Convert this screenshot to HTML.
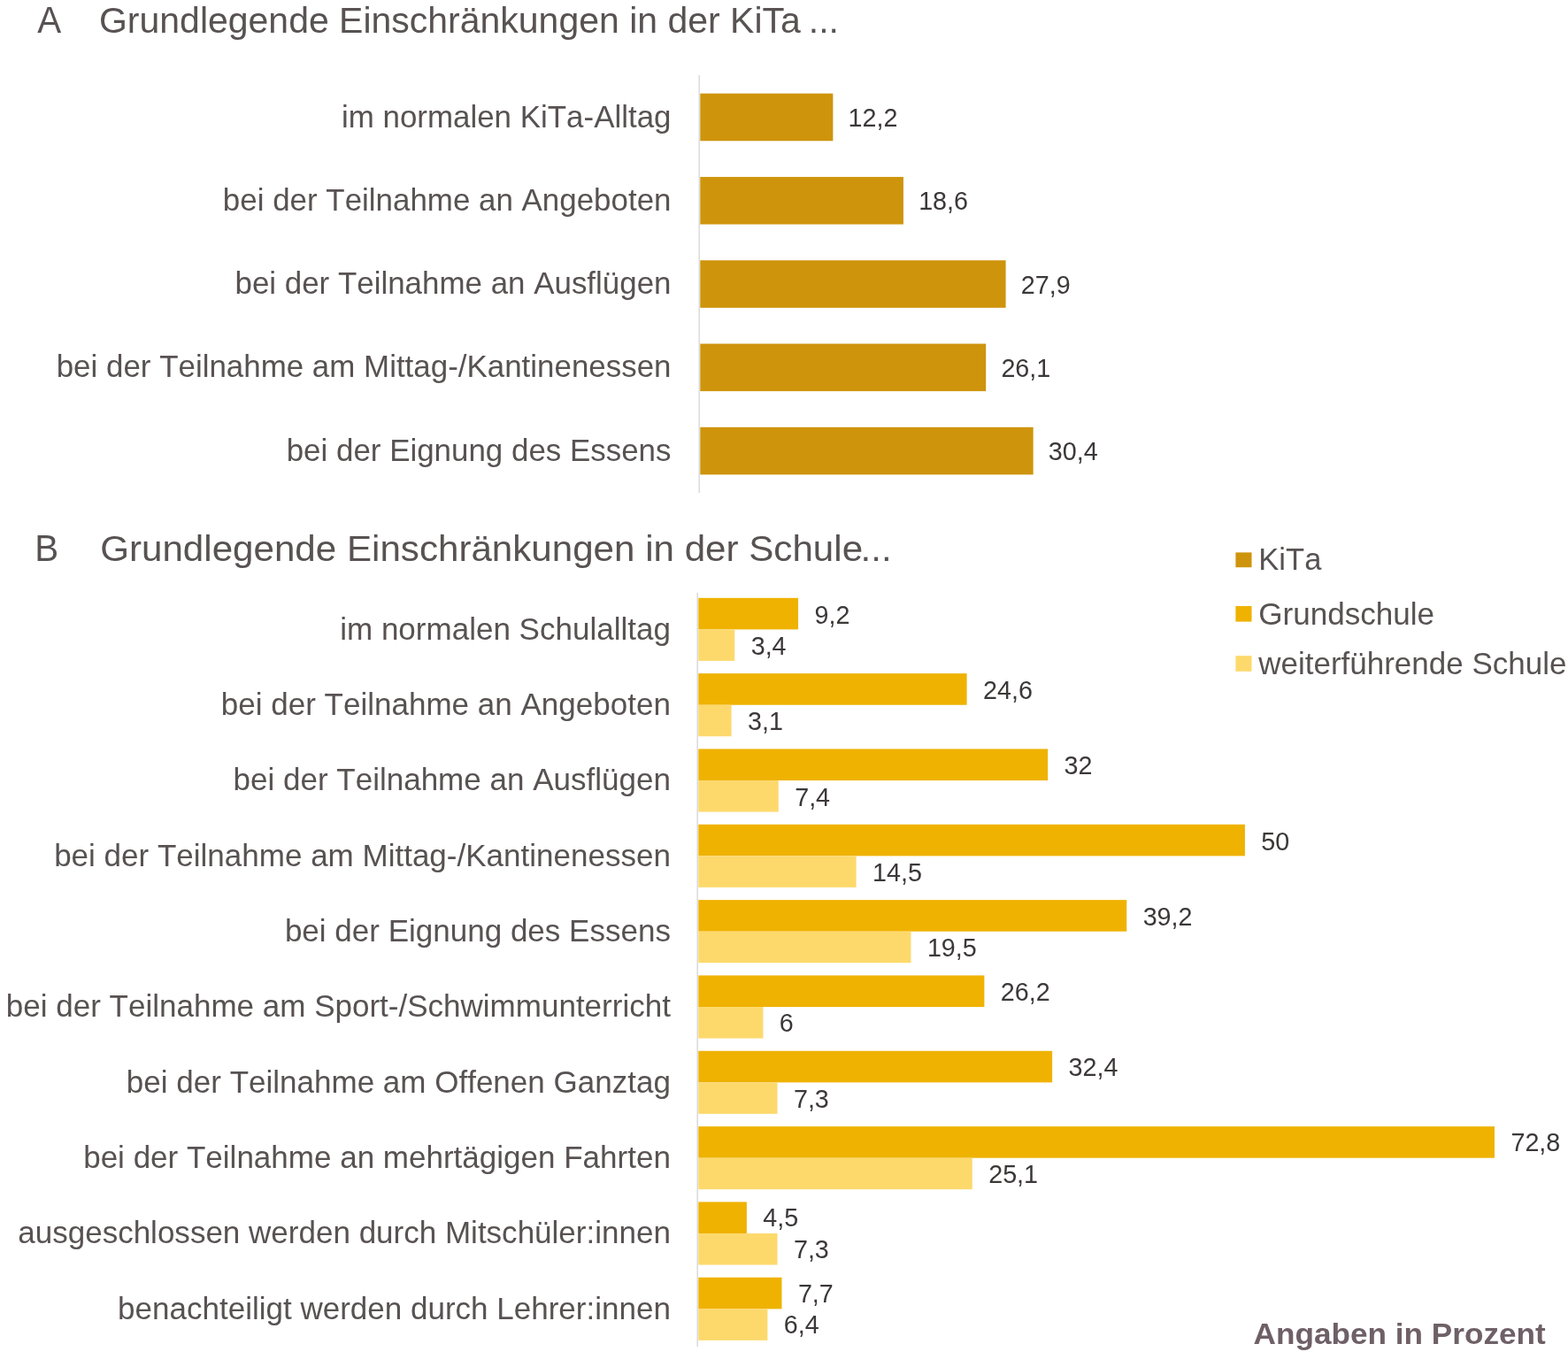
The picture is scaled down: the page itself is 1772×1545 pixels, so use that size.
<!DOCTYPE html>
<html lang="de"><head><meta charset="utf-8"><title>Grundlegende Einschränkungen in KiTa und Schule</title>
<style>
html,body{margin:0;padding:0;background:#fff;}
body{width:1772px;height:1545px;overflow:hidden;}
svg{display:block;font-family:"Liberation Sans",sans-serif;}
text{white-space:pre;font-kerning:none;}
.ttl{font-size:41.0px;fill:#585252;font-kerning:normal;}
.cat{font-size:34.3px;fill:#585252;text-anchor:end;}
.leg{font-size:34.3px;fill:#585252;}
.val{font-size:29.3px;fill:#3c3838;}
.note{font-size:34.0px;font-weight:bold;fill:#6E6066;font-kerning:normal;}
</style></head><body>
<svg width="1772" height="1545" viewBox="0 0 1772 1545" role="img" aria-label="Balkendiagramme: Grundlegende Einschränkungen in KiTa und Schule">
<rect width="1772" height="1545" fill="#ffffff"/>
<g id="chart-a">
<text class="ttl" transform="translate(42.20 37.00) scale(0.9850 1.0500)">A</text>
<text class="ttl" transform="translate(112.00 36.80) scale(0.9997 1.0000)">Grundlegende Einschränkungen in der KiTa <tspan dx="-2.4">...</tspan></text>
<rect x="789.45" y="85.00" width="1.60" height="472.00" fill="#DCDCDC"/>
<rect x="791.30" y="105.65" width="150.06" height="53.60" fill="#CE940C"/>
<text class="cat" transform="translate(758.50 143.55) scale(1.0180 1.0000)">im normalen KiTa-Alltag</text>
<text class="val" transform="translate(958.56 142.95) scale(0.9800 1.0000)">12,2</text>
<rect x="791.30" y="199.94" width="229.64" height="53.60" fill="#CE940C"/>
<text class="cat" transform="translate(758.50 237.84) scale(1.0180 1.0000)">bei der Teilnahme an Angeboten</text>
<text class="val" transform="translate(1038.14 237.24) scale(0.9800 1.0000)">18,6</text>
<rect x="791.30" y="294.23" width="345.29" height="53.60" fill="#CE940C"/>
<text class="cat" transform="translate(758.50 332.13) scale(1.0180 1.0000)">bei der Teilnahme an Ausflügen</text>
<text class="val" transform="translate(1153.79 331.53) scale(0.9800 1.0000)">27,9</text>
<rect x="791.30" y="388.52" width="322.90" height="53.60" fill="#CE940C"/>
<text class="cat" transform="translate(758.50 426.42) scale(1.0180 1.0000)">bei der Teilnahme am Mittag-/Kantinenessen</text>
<text class="val" transform="translate(1131.40 425.82) scale(0.9800 1.0000)">26,1</text>
<rect x="791.30" y="482.81" width="376.37" height="53.60" fill="#CE940C"/>
<text class="cat" transform="translate(758.50 520.71) scale(1.0180 1.0000)">bei der Eignung des Essens</text>
<text class="val" transform="translate(1184.87 520.11) scale(0.9800 1.0000)">30,4</text>
</g>
<g id="chart-b">
<text class="ttl" transform="translate(39.30 634.30) scale(0.9850 1.0550)">B</text>
<text class="ttl" transform="translate(113.20 634.20) scale(1.0278 1.0000)">Grundlegende Einschränkungen in der Schule<tspan dx="-2.5">...</tspan></text>
<rect x="787.40" y="670.00" width="1.60" height="852.00" fill="#DCDCDC"/>
<rect x="789.30" y="675.80" width="112.74" height="35.60" fill="#EFB200"/>
<rect x="789.30" y="711.40" width="40.97" height="35.50" fill="#FDD96C"/>
<text class="cat" transform="translate(757.90 722.80) scale(1.0210 1.0000)">im normalen Schulalltag</text>
<text class="val" transform="translate(920.44 705.10) scale(0.9800 1.0000)">9,2</text>
<text class="val" transform="translate(848.67 740.20) scale(0.9800 1.0000)">3,4</text>
<rect x="789.30" y="761.13" width="303.30" height="35.60" fill="#EFB200"/>
<rect x="789.30" y="796.73" width="37.26" height="35.50" fill="#FDD96C"/>
<text class="cat" transform="translate(757.90 808.13) scale(1.0210 1.0000)">bei der Teilnahme an Angeboten</text>
<text class="val" transform="translate(1111.00 790.26) scale(0.9800 1.0000)">24,6</text>
<text class="val" transform="translate(844.96 825.44) scale(0.9800 1.0000)">3,1</text>
<rect x="789.30" y="846.46" width="394.87" height="35.60" fill="#EFB200"/>
<rect x="789.30" y="882.06" width="90.47" height="35.50" fill="#FDD96C"/>
<text class="cat" transform="translate(757.90 893.46) scale(1.0210 1.0000)">bei der Teilnahme an Ausflügen</text>
<text class="val" transform="translate(1202.57 875.42) scale(0.9800 1.0000)">32</text>
<text class="val" transform="translate(898.17 910.68) scale(0.9800 1.0000)">7,4</text>
<rect x="789.30" y="931.79" width="617.60" height="35.60" fill="#EFB200"/>
<rect x="789.30" y="967.39" width="178.32" height="35.50" fill="#FDD96C"/>
<text class="cat" transform="translate(757.90 978.79) scale(1.0210 1.0000)">bei der Teilnahme am Mittag-/Kantinenessen</text>
<text class="val" transform="translate(1425.30 960.58) scale(0.9800 1.0000)">50</text>
<text class="val" transform="translate(986.02 995.92) scale(0.9800 1.0000)">14,5</text>
<rect x="789.30" y="1017.12" width="483.96" height="35.60" fill="#EFB200"/>
<rect x="789.30" y="1052.72" width="240.19" height="35.50" fill="#FDD96C"/>
<text class="cat" transform="translate(757.90 1064.12) scale(1.0210 1.0000)">bei der Eignung des Essens</text>
<text class="val" transform="translate(1291.66 1045.74) scale(0.9800 1.0000)">39,2</text>
<text class="val" transform="translate(1047.89 1081.16) scale(0.9800 1.0000)">19,5</text>
<rect x="789.30" y="1102.45" width="323.10" height="35.60" fill="#EFB200"/>
<rect x="789.30" y="1138.05" width="73.14" height="35.50" fill="#FDD96C"/>
<text class="cat" transform="translate(757.90 1149.45) scale(1.0210 1.0000)">bei der Teilnahme am Sport-/Schwimmunterricht</text>
<text class="val" transform="translate(1130.80 1130.90) scale(0.9800 1.0000)">26,2</text>
<text class="val" transform="translate(880.84 1166.40) scale(0.9800 1.0000)">6</text>
<rect x="789.30" y="1187.78" width="399.82" height="35.60" fill="#EFB200"/>
<rect x="789.30" y="1223.38" width="89.23" height="35.50" fill="#FDD96C"/>
<text class="cat" transform="translate(757.90 1234.78) scale(1.0210 1.0000)">bei der Teilnahme am Offenen Ganztag</text>
<text class="val" transform="translate(1207.52 1216.06) scale(0.9800 1.0000)">32,4</text>
<text class="val" transform="translate(896.93 1251.64) scale(0.9800 1.0000)">7,3</text>
<rect x="789.30" y="1273.11" width="899.73" height="35.60" fill="#EFB200"/>
<rect x="789.30" y="1308.71" width="309.49" height="35.50" fill="#FDD96C"/>
<text class="cat" transform="translate(757.90 1320.11) scale(1.0210 1.0000)">bei der Teilnahme an mehrtägigen Fahrten</text>
<text class="val" transform="translate(1707.43 1301.22) scale(0.9800 1.0000)">72,8</text>
<text class="val" transform="translate(1117.19 1336.88) scale(0.9800 1.0000)">25,1</text>
<rect x="789.30" y="1358.44" width="54.58" height="35.60" fill="#EFB200"/>
<rect x="789.30" y="1394.04" width="89.23" height="35.50" fill="#FDD96C"/>
<text class="cat" transform="translate(757.90 1405.44) scale(1.0210 1.0000)">ausgeschlossen werden durch Mitschüler:innen</text>
<text class="val" transform="translate(862.28 1386.38) scale(0.9800 1.0000)">4,5</text>
<text class="val" transform="translate(896.93 1422.12) scale(0.9800 1.0000)">7,3</text>
<rect x="789.30" y="1443.77" width="94.18" height="35.60" fill="#EFB200"/>
<rect x="789.30" y="1479.37" width="78.09" height="35.50" fill="#FDD96C"/>
<text class="cat" transform="translate(757.90 1490.77) scale(1.0210 1.0000)">benachteiligt werden durch Lehrer:innen</text>
<text class="val" transform="translate(901.88 1471.54) scale(0.9800 1.0000)">7,7</text>
<text class="val" transform="translate(885.79 1507.36) scale(0.9800 1.0000)">6,4</text>
</g>
<g id="legend">
<rect x="1396.40" y="624.40" width="18.10" height="16.80" fill="#CE940C"/>
<text class="leg" transform="translate(1422.30 644.20) scale(1.0080 1.0000)">KiTa</text>
<rect x="1396.40" y="685.00" width="18.10" height="17.60" fill="#EFB200"/>
<text class="leg" transform="translate(1422.20 706.20) scale(1.0230 1.0000)">Grundschule</text>
<rect x="1396.40" y="741.20" width="18.10" height="17.60" fill="#FDD96C"/>
<text class="leg" transform="translate(1422.20 761.90) scale(1.0205 1.0000)">weiterführende Schule</text>
</g>
<text class="note" transform="translate(1416.60 1518.90) scale(1.0345 1.0000)">Angaben in Prozent</text>
</svg>
</body></html>
